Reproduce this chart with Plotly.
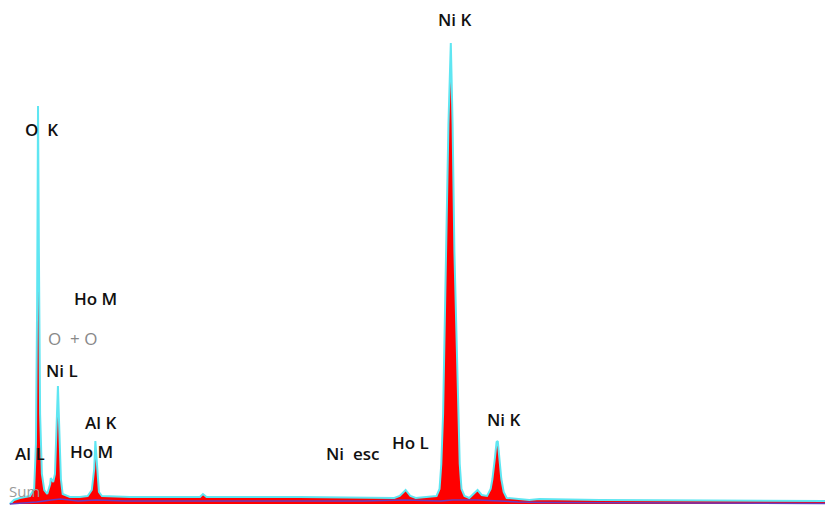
import plotly.graph_objects as go

# Spectrum: energy (keV) and counts (arbitrary units)
energy = [0.05, 0.12, 0.22, 0.39, 0.46, 0.49, 0.51, 0.525, 0.54, 0.56, 0.59, 0.63, 0.68,
          0.73, 0.74, 0.78, 0.81, 0.84, 0.86, 0.88, 0.91, 0.94, 0.99, 1.06, 1.23, 1.36,
          1.43, 1.47, 1.49, 1.52, 1.55, 1.60, 2.07, 3.25, 3.30, 3.36, 4.93, 6.52, 6.61,
          6.71, 6.79, 6.88, 7.23, 7.28, 7.31, 7.34, 7.36, 7.40, 7.43, 7.47, 7.50, 7.53,
          7.57, 7.59, 7.62, 7.65, 7.70, 7.78, 7.85, 7.92, 7.99, 8.08, 8.14, 8.17, 8.21,
          8.24, 8.26, 8.29, 8.32, 8.36, 8.41, 8.79, 8.96, 9.97, 13.9]
counts = [0, 4, 6, 8, 15, 60, 200, 398, 250, 90, 30, 14, 10,
          20, 26, 22, 30, 80, 118, 80, 25, 10, 9, 7, 7, 8,
          14, 35, 63, 35, 12, 8, 7, 7, 10, 7, 7, 6, 8,
          14, 8, 6, 8, 15, 40, 90, 150, 253, 380, 461, 380, 253,
          150, 90, 40, 15, 8, 6, 10, 14, 9, 8, 15, 25, 45,
          62, 63, 45, 25, 12, 6, 4, 5, 4, 3]

# Background fit line
bg_energy = [0.05, 0.5, 0.75, 0.9, 1.2, 1.5, 2.0, 6.0, 6.7, 7.3, 7.5, 7.9, 8.3, 8.6, 9.0, 13.9]
bg_counts = [0, 2, 4, 5, 3, 4, 3, 3, 4, 3, 4, 4, 3, 2, 1.5, 0.5]

# Peak labels: text, energy, height, colour
label_text = ["O  K", "Ni K", "Ho M", "O  + O", "Ni L", "Al K", "Al L", "Ho M",
              "Ni  esc", "Ho L", "Ni K", "Sum"]
label_x = [0.59, 7.53, 1.50, 1.11, 0.93, 1.57, 0.39, 1.43, 5.82, 6.79, 8.36, 0.30]
label_y = [375, 485, 206, 166, 134, 82, 51, 53, 51, 62, 85, 13]
label_color = ["#111", "#111", "#111", "#888", "#111", "#111", "#111", "#111",
               "#111", "#111", "#111", "#999"]
label_size = [17, 17, 17, 17, 17, 17, 17, 17, 17, 17, 17, 15]
label_weight = [600, 600, 600, 400, 600, 600, 600, 600, 600, 600, 600, 400]

fig = go.Figure()
fig.add_trace(go.Scatter(x=energy, y=counts, mode="lines", fill="tozeroy",
                         fillcolor="#ff0000", line=dict(color="#5fe6f2", width=2),
                         hoverinfo="skip"))
fig.add_trace(go.Scatter(x=bg_energy, y=bg_counts, mode="lines",
                         line=dict(color="#6a3cc0", width=1.5), hoverinfo="skip"))

for t, x, y, c, s, w in zip(label_text, label_x, label_y, label_color, label_size, label_weight):
    fig.add_annotation(x=x, y=y, text=t, showarrow=False,
                       font=dict(family="Open Sans", size=s, color=c, weight=w))

fig.update_layout(
    width=825, height=500, margin=dict(l=0, r=0, t=0, b=0),
    paper_bgcolor="white", plot_bgcolor="white", showlegend=False,
    xaxis=dict(range=[0.02, 13.9], visible=False),
    yaxis=dict(range=[-4, 496], visible=False),
)
fig.write_html("out.html")
